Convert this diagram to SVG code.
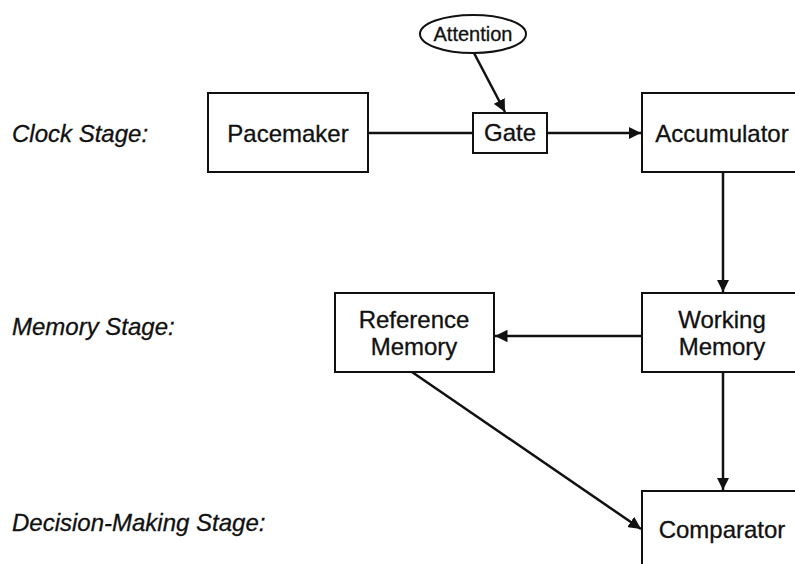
<svg xmlns="http://www.w3.org/2000/svg" width="795" height="564" viewBox="0 0 795 564">
<style>
  .box { fill: #fff; stroke: #111; stroke-width: 2; }
  .lbl { font-family: "Liberation Sans", Arial, sans-serif; font-size: 24px; fill: #111; stroke: #111; stroke-width: 0.3; text-anchor: middle; }
  .stage { font-family: "Liberation Sans", Arial, sans-serif; font-size: 24px; font-style: italic; fill: #111; stroke: #111; stroke-width: 0.3; }
  .edge { stroke: #111; stroke-width: 2.5; fill: none; }
</style>
<defs>
  <marker id="arr" viewBox="0 0 10 10" refX="10" refY="5" markerWidth="5" markerHeight="5" orient="auto" markerUnits="strokeWidth">
    <path d="M0,0 L10,5 L0,10 z" fill="#111"/>
  </marker>
</defs>
<rect width="795" height="564" fill="#fff"/>
<g id="stages">
  <text class="stage" x="12" y="142">Clock Stage:</text>
  <text class="stage" x="12" y="335">Memory Stage:</text>
  <text class="stage" x="12" y="531">Decision-Making Stage:</text>
</g>
<g id="connectors">
  <line class="edge" x1="368" y1="133" x2="473" y2="133"/>
  <line class="edge" x1="547" y1="133" x2="641" y2="133" marker-end="url(#arr)"/>
  <line class="edge" x1="474" y1="53" x2="505" y2="112" marker-end="url(#arr)"/>
  <line class="edge" x1="723" y1="172" x2="723" y2="292" marker-end="url(#arr)"/>
  <line class="edge" x1="642" y1="336" x2="495" y2="336" marker-end="url(#arr)"/>
  <line class="edge" x1="723" y1="372" x2="723" y2="490" marker-end="url(#arr)"/>
  <line class="edge" x1="412" y1="372" x2="641" y2="529" marker-end="url(#arr)"/>
</g>
<g id="attention">
  <ellipse class="box" cx="473" cy="34" rx="53" ry="19"/>
  <text class="lbl" x="473" y="41" style="font-size:20px">Attention</text>
</g>
<g id="pacemaker">
  <rect class="box" x="208" y="93" width="160" height="79"/>
  <text class="lbl" x="288" y="142">Pacemaker</text>
</g>
<g id="gate">
  <rect class="box" x="473" y="113" width="74" height="40"/>
  <text class="lbl" x="510" y="141">Gate</text>
</g>
<g id="accumulator">
  <rect class="box" x="642" y="93" width="165" height="79"/>
  <text class="lbl" x="722" y="142">Accumulator</text>
</g>
<g id="reference-memory">
  <rect class="box" x="335" y="293" width="159" height="79"/>
  <text class="lbl" x="414" y="328">Reference</text>
  <text class="lbl" x="414" y="355">Memory</text>
</g>
<g id="working-memory">
  <rect class="box" x="642" y="293" width="165" height="79"/>
  <text class="lbl" x="722" y="328">Working</text>
  <text class="lbl" x="722" y="355">Memory</text>
</g>
<g id="comparator">
  <rect class="box" x="642" y="491" width="165" height="90"/>
  <text class="lbl" x="722" y="538">Comparator</text>
</g>
</svg>
